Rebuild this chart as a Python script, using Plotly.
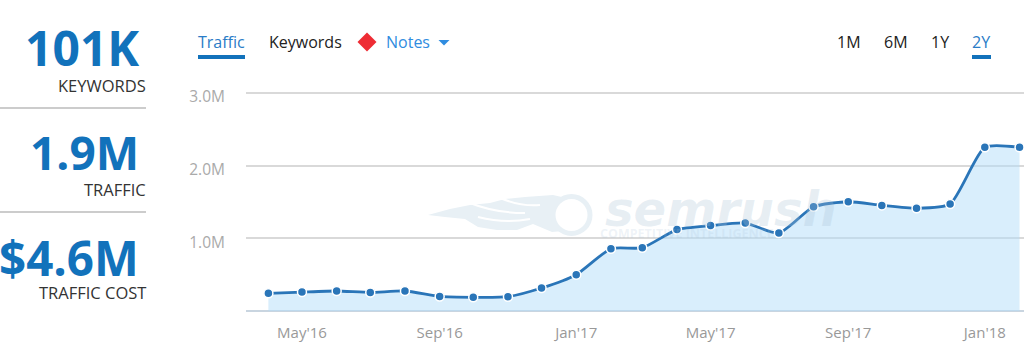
import plotly.graph_objects as go

W, H = 1024, 352
dates = ["2016-04-01","2016-05-01","2016-06-01","2016-07-01","2016-08-01","2016-09-01","2016-10-01","2016-11-01",
         "2016-12-01","2017-01-01","2017-02-01","2017-03-01","2017-04-01","2017-05-01","2017-06-01","2017-07-01",
         "2017-08-01","2017-09-01","2017-10-01","2017-11-01","2017-12-01","2018-01-01","2018-02-01"]
traffic = [0.243,0.26,0.275,0.255,0.275,0.20,0.188,0.197,0.316,0.50,0.857,0.87,1.12,1.175,1.21,1.073,1.435,1.503,1.453,1.413,1.472,2.252,2.252]
y_ticks = [1, 2, 3]
y_labels = ["1.0M", "2.0M", "3.0M"]

BLUE = "#1272bb"; LINE = "#2a75b8"; FONT = "Open Sans"
WM = "rgba(170,195,215,0.28)"

def px(x): return x / W
def py(y): return 1 - y / H

fig = go.Figure()
fig.add_trace(go.Scatter(
    x=dates, y=traffic, mode="lines+markers", fill="tozeroy", fillcolor="rgba(179,221,249,0.5)",
    line=dict(color=LINE, width=2.8, shape="spline", smoothing=0.6),
    marker=dict(size=9, color=LINE, line=dict(color="white", width=1.5)),
    hoverinfo="skip", showlegend=False, cliponaxis=False))

ann = []
def t(x, y, s, size, color, anchor="right", bold=False, family=FONT):
    ann.append(dict(x=px(x), y=py(y), xref="paper", yref="paper", text=f"<b>{s}</b>" if bold else s,
                    showarrow=False, xanchor=anchor, yanchor="middle", align=anchor, borderpad=0, borderwidth=0,
                    font=dict(family=family, size=size, color=color)))
t(138.5, 47, "101K", 48, BLUE, bold=True)
t(146, 85.5, "KEYWORDS", 16.5, "#333333")
t(139, 151.5, "1.9M", 46, BLUE, bold=True)
t(146, 189, "TRAFFIC", 16.5, "#333333")
t(139, 257, "$4.6M", 47.5, BLUE, bold=True)
t(146, 292.5, "TRAFFIC COST", 16.5, "#333333")
t(198, 42, "Traffic", 16, "#2a7cc7", "left")
t(269, 42, "Keywords", 16, "#222222", "left")
t(386, 42, "Notes", 16, "#2f8ce0", "left")
t(837, 42, "1M", 16, "#222222", "left")
t(884, 42, "6M", 16, "#222222", "left")
t(931, 42, "1Y", 16, "#222222", "left")
t(972, 42, "2Y", 16, "#2a7cc7", "left")
t(605, 209, "<i>semrush</i>", 48, WM, "left", True, "DejaVu Sans")
t(600, 233, "COMPETITIVE INTELLIGENCE", 12.5, "rgba(170,195,215,0.2)", "left", True)

def rect(x0, y0, x1, y1, color):
    return dict(type="rect", xref="paper", yref="paper", x0=px(x0), x1=px(x1), y0=py(y0), y1=py(y1),
                fillcolor=color, line=dict(width=0), layer="above")
def poly(points, color, layer="above"):
    d = "M " + " L ".join(f"{px(a):.5f},{py(b):.5f}" for a, b in points) + " Z"
    return dict(type="path", xref="paper", yref="paper", path=d, fillcolor=color, line=dict(width=0), layer=layer)
def streak(points):
    a = points[0]
    d = f"M {px(a[0]):.5f},{py(a[1]):.5f} Q " + " ".join(f"{px(p[0]):.5f},{py(p[1]):.5f}" for p in points[1:])
    return dict(type="path", xref="paper", yref="paper", path=d, line=dict(color="white", width=2), layer="below")

shapes = [
    rect(0, 107.5, 146, 108.5, "#9a9a9a"), rect(0, 211.5, 146, 212.5, "#9a9a9a"),
    rect(198, 55, 245, 59, BLUE), rect(972, 55, 991, 59, BLUE),
    poly([(367, 32.5), (376.5, 42), (367, 51.5), (357.5, 42)], "#ee2c34"),
    poly([(438.5, 40), (449.5, 40), (444, 45.5)], "#2f8ce0"),
    poly([(428, 215), (450, 209), (470, 205), (490, 203), (505, 199), (525, 197), (553, 195), (575, 200),
          (575, 230), (552, 232), (533, 224), (517, 230), (497, 230), (478, 227), (465, 219), (445, 217)],
         "#e8f0f5", "below"),
    streak([(470, 203), (495, 213), (525, 213)]),
    streak([(500, 198), (522, 207), (540, 205)]),
    streak([(478, 217), (505, 224), (530, 219)]),
    dict(type="circle", xref="paper", yref="paper", x0=px(553), x1=px(590), y0=py(233.5), y1=py(196.5),
         fillcolor="white", line=dict(color="#e8f0f5", width=5), layer="below"),
]

fig.update_layout(
    width=W, height=H, margin=dict(l=0, r=0, t=0, b=0, autoexpand=False), paper_bgcolor="white", plot_bgcolor="rgba(0,0,0,0)",
    xaxis=dict(domain=[px(246), 1], type="date", range=["2016-03-12", "2018-02-05"], tick0="2016-05-01",
               dtick="M4", tickformat="%b'%y", showgrid=False, zeroline=False, showline=False, ticks="",
               tickfont=dict(family=FONT, size=15, color="#999999"), ticklabelstandoff=11),
    yaxis=dict(domain=[py(311), py(90)], range=[0, 3.041], tickvals=y_ticks, ticktext=y_labels,
               gridcolor="#d9d9d9", gridwidth=1.5, zeroline=True, zerolinecolor="#c9d5e0", zerolinewidth=1.5,
               showline=False, ticks="", tickfont=dict(family=FONT, size=15.5, color="#aaaaaa"),
               ticklabelstandoff=20, ticklabelshift=4),
    annotations=ann, shapes=shapes,
)
fig.write_html("out.html", config={"displayModeBar": False},
               post_script="document.body.style.margin='0';document.body.style.overflow='hidden';")
